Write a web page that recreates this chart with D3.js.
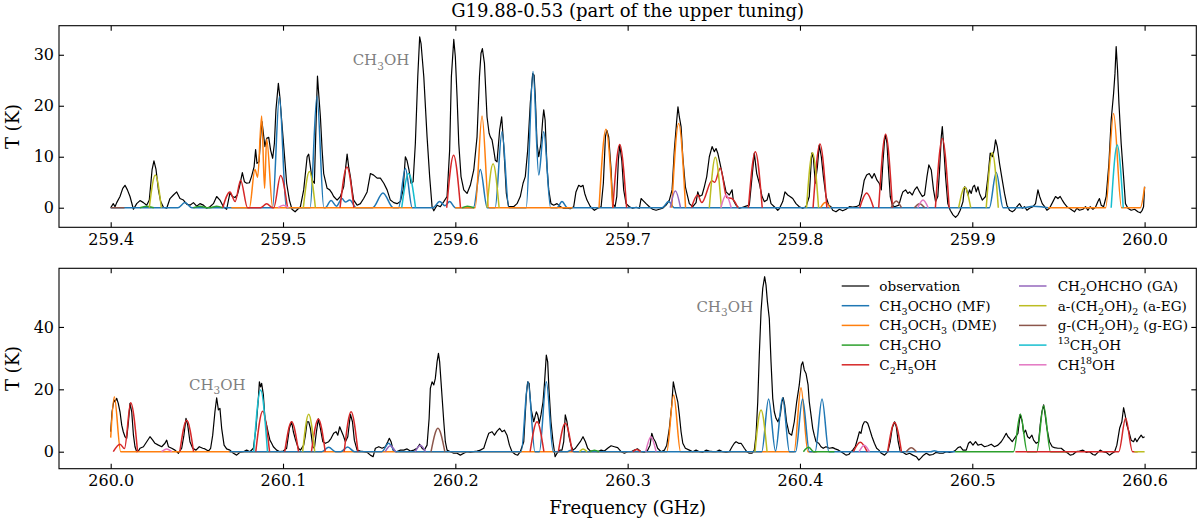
<!DOCTYPE html>
<html><head><meta charset="utf-8">
<script src="https://cdn.jsdelivr.net/npm/d3@7"></script>
<style>
body{margin:0;background:#fff}
svg{display:block}
text{font-family:"DejaVu Serif",serif;white-space:pre}
</style>
</head><body>
<svg id="chart" width="1200" height="521"></svg>
<script>
// ---------------- DATA ----------------
const xTicksUpper = [259.4, 259.5, 259.6, 259.7, 259.8, 259.9, 260.0];
const xTicksLower = [260.0, 260.1, 260.2, 260.3, 260.4, 260.5, 260.6];
const yTicksUpper = [0, 10, 20, 30];
const yTicksLower = [0, 20, 40];

// observed spectrum, upper panel [GHz, K]
const obsUpper = [[259.4000,0.0],[259.4015,0.8],[259.4025,0.2],[259.4035,1.0],[259.4054,2.2],[259.4070,3.8],[259.4083,4.4],[259.4097,3.5],[259.4112,2.2],[259.4132,-0.3],[259.4151,0.8],[259.4170,1.4],[259.4190,1.0],[259.4209,0.5],[259.4224,1.5],[259.4240,7.4],[259.4251,9.2],[259.4263,7.5],[259.4277,3.5],[259.4290,1.2],[259.4306,0.1],[259.4325,-0.1],[259.4344,1.8],[259.4364,2.5],[259.4383,3.1],[259.4402,1.8],[259.4422,1.5],[259.4441,0.7],[259.4460,0.5],[259.4480,1.0],[259.4499,0.3],[259.4518,0.8],[259.4538,0.5],[259.4557,-0.1],[259.4576,0.2],[259.4596,0.8],[259.4615,2.2],[259.4634,1.5],[259.4654,0.2],[259.4673,-0.3],[259.4692,2.9],[259.4706,2.2],[259.4721,2.0],[259.4735,2.5],[259.4747,4.1],[259.4764,6.9],[259.4776,5.1],[259.4789,4.8],[259.4805,4.9],[259.4818,6.2],[259.4832,8.0],[259.4841,11.4],[259.4849,8.7],[259.4861,9.0],[259.4870,13.9],[259.4878,16.9],[259.4886,14.6],[259.4895,12.0],[259.4905,13.6],[259.4917,13.8],[259.4928,11.3],[259.4940,9.7],[259.4950,12.6],[259.4959,19.2],[259.4973,24.4],[259.4982,21.6],[259.4992,17.2],[259.5006,11.3],[259.5021,4.8],[259.5037,1.5],[259.5052,-0.3],[259.5070,-0.8],[259.5085,-0.3],
[259.5101,0.2],[259.5120,3.5],[259.5140,10.0],[259.5149,10.5],[259.5159,8.0],[259.5169,5.4],[259.5182,4.8],[259.5194,19.2],[259.5200,25.8],[259.5207,22.4],[259.5217,17.8],[259.5227,11.3],[259.5236,6.7],[259.5256,3.8],[259.5271,3.5],[259.5285,2.8],[259.5294,2.2],[259.5314,1.5],[259.5333,2.2],[259.5352,4.1],[259.5364,8.0],[259.5372,10.5],[259.5381,8.0],[259.5391,6.1],[259.5401,3.5],[259.5410,1.5],[259.5430,0.5],[259.5449,0.8],[259.5468,1.8],[259.5488,3.1],[259.5507,6.7],[259.5526,6.4],[259.5546,5.8],[259.5565,5.8],[259.5585,4.8],[259.5604,3.5],[259.5623,1.5],[259.5643,1.0],[259.5662,0.8],[259.5681,1.2],[259.5697,3.5],[259.5710,10.0],[259.5720,9.2],[259.5731,7.4],[259.5743,4.8],[259.5755,5.1],[259.5768,12.6],[259.5782,25.7],[259.5793,33.5],[259.5801,32.2],[259.5817,25.7],[259.5836,13.9],[259.5851,6.1],[259.5865,0.2],[259.5875,-0.6],[259.5894,0.5],[259.5913,0.2],[259.5933,1.2],[259.5952,2.2],[259.5967,11.3],[259.5977,25.7],[259.5991,33.0],[259.6000,29.6],[259.6010,21.8],[259.6020,12.6],[259.6033,6.1],[259.6049,3.5],[259.6068,2.8],[259.6087,4.4],[259.6107,7.4],[259.6126,13.9],[259.6140,25.7],[259.6149,30.3],[259.6157,31.2],[259.6169,28.3],[259.6184,17.8],[259.6196,14.6],[259.6203,13.9],[259.6213,13.3],[259.6223,11.3],[259.6232,9.3],[259.6242,9.0],[259.6257,15.2],[259.6269,17.8],[259.6280,12.6],[259.6296,2.8],[259.6309,0.2],[259.6323,0.2],[259.6338,0.2],[259.6358,0.8],[259.6377,2.2],[259.6393,4.8],[259.6406,6.1],[259.6420,11.3],[259.6435,20.5],[259.6449,26.3],[259.6457,26.0],[259.6464,21.8],[259.6474,12.6],[259.6484,10.0],[259.6497,12.6],[259.6507,17.2],[259.6513,19.2],[259.6521,17.2],[259.6532,8.0],[259.6542,3.5],[259.6555,0.8],[259.6571,0.5],[259.6590,0.8],[259.6610,0.2],[259.6629,-0.1],[259.6648,-0.1],[259.6667,-0.2],[259.6687,0.2],[259.6700,3.1],[259.6716,4.4],[259.6729,4.1],[259.6741,4.4],[259.6751,2.8],[259.6764,1.5],[259.6784,0.2],
[259.6807,-0.5],[259.6826,-0.1],[259.6846,0.2],[259.6859,4.8],[259.6871,13.9],[259.6879,15.2],[259.6890,13.9],[259.6904,7.4],[259.6913,0.8],[259.6927,0.2],[259.6937,2.2],[259.6946,9.3],[259.6954,12.3],[259.6966,9.3],[259.6977,3.5],[259.6991,0.8],[259.7010,0.2],[259.7029,-0.1],[259.7049,0.1],[259.7068,-0.1],[259.7078,1.8],[259.7087,1.5],[259.7107,0.8],[259.7126,0.2],[259.7145,-0.3],[259.7165,-0.5],[259.7184,-0.3],[259.7203,-0.1],[259.7223,0.5],[259.7242,1.5],[259.7258,3.5],[259.7271,11.3],[259.7285,17.2],[259.7292,19.8],[259.7300,17.8],[259.7310,15.9],[259.7320,10.0],[259.7335,4.1],[259.7358,0.8],[259.7378,0.2],[259.7397,1.0],[259.7407,3.1],[259.7416,2.2],[259.7432,2.5],[259.7445,4.1],[259.7459,6.1],[259.7474,10.0],[259.7490,12.0],[259.7503,11.0],[259.7513,11.6],[259.7523,10.7],[259.7536,8.7],[259.7552,6.1],[259.7571,3.1],[259.7590,2.5],[259.7606,3.5],[259.7613,1.5],[259.7629,0.5],[259.7648,-0.1],[259.7668,0.1],[259.7687,0.3],[259.7706,0.5],[259.7722,6.1],[259.7735,10.7],[259.7749,6.7],[259.7764,4.8],[259.7780,2.2],[259.7793,1.2],[259.7809,1.5],[259.7819,2.8],[259.7832,0.8],[259.7851,0.2],[259.7871,-0.5],[259.7880,-0.2],[259.7900,1.2],[259.7913,3.1],[259.7929,2.5],[259.7942,2.2],[259.7958,1.8],[259.7977,0.8],[259.7996,0.2],[259.8016,-0.1],[259.8035,0.2],[259.8054,2.2],[259.8068,10.7],[259.8078,9.7],[259.8089,4.8],[259.8101,8.0],[259.8112,12.3],[259.8124,10.0],[259.8136,6.1],[259.8151,2.2],[259.8167,0.5],[259.8180,0.2],[259.8190,-0.5],[259.8209,-0.8],[259.8229,-0.3],[259.8248,-0.6],[259.8267,-0.3],[259.8287,0.2],[259.8306,0.1],[259.8325,0.2],[259.8344,0.5],[259.8360,2.8],[259.8373,5.4],[259.8387,6.4],[259.8402,6.7],[259.8418,5.8],[259.8431,6.7],[259.8447,5.4],[259.8460,4.8],
[259.8472,3.5],[259.8481,8.7],[259.8491,13.3],[259.8497,14.2],[259.8505,12.6],[259.8514,7.4],[259.8524,2.2],[259.8536,0.5],[259.8549,0.2],[259.8574,0.5],[259.8588,2.2],[259.8597,3.1],[259.8613,3.5],[259.8626,2.8],[259.8636,3.1],[259.8652,2.5],[259.8665,3.5],[259.8679,4.1],[259.8694,3.1],[259.8710,2.2],[259.8723,2.5],[259.8737,6.1],[259.8748,8.4],[259.8762,7.4],[259.8775,3.5],[259.8787,1.2],[259.8800,2.2],[259.8810,7.4],[259.8820,13.9],[259.8826,15.9],[259.8833,12.6],[259.8845,6.1],[259.8858,0.8],[259.8872,-0.5],[259.8888,-1.4],[259.8903,-1.9],[259.8917,-1.4],[259.8930,-0.5],[259.8946,1.2],[259.8955,4.1],[259.8965,3.8],[259.8975,2.5],[259.8984,3.5],[259.8994,2.8],[259.9004,4.1],[259.9013,4.4],[259.9023,3.1],[259.9033,4.1],[259.9042,2.8],[259.9058,1.5],[259.9077,2.2],[259.9091,6.1],[259.9104,10.7],[259.9116,10.0],[259.9127,11.3],[259.9135,13.3],[259.9145,12.0],[259.9158,8.7],[259.9174,5.4],[259.9187,2.8],[259.9201,0.5],[259.9216,-0.5],[259.9232,-0.8],[259.9245,-0.5],[259.9259,0.2],[259.9274,0.8],[259.9290,-0.1],[259.9303,0.2],[259.9317,-0.5],[259.9332,-0.1],[259.9352,0.2],[259.9367,0.8],[259.9381,3.5],[259.9391,2.2],[259.9406,0.8],[259.9420,0.2],[259.9433,-0.5],[259.9448,-0.1],[259.9468,1.2],[259.9483,2.2],[259.9497,1.8],[259.9510,2.2],[259.9522,1.5],[259.9535,0.8],[259.9549,0.2],[259.9564,-0.1],[259.9580,-0.5],[259.9593,-0.8],[259.9607,-0.1],[259.9622,-0.5],[259.9642,-0.3],[259.9657,0.2],[259.9671,-0.5],[259.9684,0.2],[259.9700,-0.3],[259.9715,0.1],[259.9729,1.2],[259.9738,1.8],[259.9748,0.5],[259.9762,0.2],[259.9777,2.2],[259.9793,8.7],[259.9806,17.2],[259.9820,22.4],[259.9828,26.3],[259.9835,31.6],[259.9843,27.0],[259.9851,20.5],[259.9864,12.6],[259.9878,6.1],[259.9889,0.8],[259.9903,-0.1],[259.9922,-0.5],[259.9942,-0.3],[259.9961,-0.8],[259.9975,-1.0],[259.9986,-0.5],[259.9994,0.2],[260.0000,4.1]];

// observed spectrum, lower panel [GHz, K]
const obsLower = [[260.0000,6.4],[260.0008,12.8],[260.0019,16.6],[260.0025,16.0],[260.0035,17.1],[260.0044,15.5],[260.0054,12.8],[260.0064,8.5],[260.0073,6.4],[260.0083,4.8],[260.0093,4.3],[260.0103,9.6],[260.0112,15.5],[260.0122,12.8],[260.0132,5.3],[260.0141,1.6],[260.0151,0.0],[260.0161,0.2],[260.0170,1.1],[260.0190,1.6],[260.0209,3.2],[260.0228,4.8],[260.0244,3.7],[260.0257,2.7],[260.0277,2.1],[260.0296,1.6],[260.0315,2.7],[260.0325,3.7],[260.0335,1.6],[260.0354,1.1],[260.0373,0.5],[260.0393,-0.5],[260.0412,1.1],[260.0425,5.3],[260.0437,10.7],[260.0447,8.5],[260.0460,3.2],[260.0476,1.1],[260.0495,0.5],[260.0514,1.6],[260.0534,1.1],[260.0547,0.9],[260.0567,0.2],[260.0580,1.1],[260.0592,5.3],[260.0605,12.8],[260.0615,17.3],[260.0625,13.4],[260.0634,13.9],[260.0644,7.5],[260.0658,2.1],[260.0673,0.9],[260.0692,0.5],[260.0712,-0.5],[260.0731,-1.1],[260.0750,-0.2],[260.0770,0.0],[260.0789,0.5],[260.0808,0.0],[260.0828,1.1],[260.0843,7.5],[260.0857,17.1],[260.0863,22.4],[260.0870,20.8],[260.0876,21.9],[260.0886,18.2],[260.0895,10.7],[260.0905,8.5],[260.0915,5.9],[260.0924,3.7],[260.0934,2.7],[260.0944,1.6],[260.0963,0.5],[260.0982,0.0],[260.1002,0.2],[260.1021,1.1],[260.1037,7.5],[260.1050,9.6],[260.1060,6.4],[260.1073,3.7],[260.1089,1.1],
[260.1101,0.5],[260.1120,2.1],[260.1130,5.3],[260.1140,9.6],[260.1149,9.6],[260.1159,7.5],[260.1173,1.6],[260.1182,1.1],[260.1194,6.4],[260.1205,10.5],[260.1217,7.5],[260.1231,3.2],[260.1246,2.7],[260.1265,3.2],[260.1279,4.3],[260.1294,5.9],[260.1308,6.4],[260.1318,5.3],[260.1329,8.0],[260.1337,6.9],[260.1349,5.3],[260.1362,3.2],[260.1376,4.8],[260.1391,12.0],[260.1403,9.6],[260.1414,3.7],[260.1430,0.5],[260.1449,0.2],[260.1468,0.0],[260.1488,-0.2],[260.1507,-1.1],[260.1523,-1.6],[260.1536,1.1],[260.1556,1.6],[260.1575,1.1],[260.1594,1.6],[260.1608,3.2],[260.1617,4.3],[260.1627,3.2],[260.1639,0.5],[260.1658,0.0],[260.1681,0.5],[260.1701,0.5],[260.1720,0.9],[260.1739,0.2],[260.1759,0.5],[260.1778,1.1],[260.1793,2.4],[260.1807,1.1],[260.1820,0.5],[260.1836,2.1],[260.1848,10.7],[260.1855,20.3],[260.1865,22.4],[260.1875,21.4],[260.1884,23.5],[260.1894,28.8],[260.1902,31.5],[260.1909,28.8],[260.1917,22.4],[260.1925,16.0],[260.1933,9.6],[260.1942,3.2],[260.1952,0.5],[260.1971,0.0],[260.1991,-0.5],[260.2010,-0.5],[260.2029,-1.1],[260.2049,-0.5],[260.2068,0.0],[260.2087,-0.2],[260.2107,0.0],[260.2126,0.2],[260.2145,0.5],[260.2165,1.1],[260.2180,3.7],[260.2194,5.9],[260.2213,6.4],[260.2227,5.3],[260.2242,6.6],[260.2257,7.5],[260.2271,6.4],[260.2285,6.9],[260.2300,5.3],[260.2314,2.1],[260.2329,0.0],[260.2349,-0.9],[260.2362,-1.1],[260.2377,0.0],[260.2397,3.2],[260.2412,18.2],[260.2420,22.4],[260.2428,21.9],[260.2439,13.9],[260.2455,9.6],[260.2470,12.8],[260.2478,11.8],[260.2487,9.1],[260.2497,11.8],[260.2509,16.0],[260.2518,22.4],[260.2528,31.0],[260.2536,28.8],[260.2543,20.3],[260.2555,9.6],[260.2567,3.2],[260.2579,-1.6],[260.2590,-0.5],[260.2606,0.5],[260.2619,0.5],[260.2629,3.2],[260.2638,11.8],[260.2648,9.6],[260.2660,4.8],[260.2671,2.1],[260.2683,0.5],[260.2697,1.1],[260.2710,2.1],[260.2725,3.2],[260.2741,4.8],[260.2755,3.2],[260.2768,1.1],[260.2784,0.2],
[260.2807,0.2],[260.2826,0.0],[260.2846,0.5],[260.2865,0.2],[260.2884,1.1],[260.2904,1.9],[260.2923,1.6],[260.2942,1.3],[260.2962,0.0],[260.2981,-0.5],[260.3000,0.0],[260.3020,0.0],[260.3039,0.5],[260.3058,0.9],[260.3078,0.0],[260.3097,-0.2],[260.3116,0.5],[260.3130,2.1],[260.3140,5.9],[260.3149,4.3],[260.3161,3.2],[260.3174,1.1],[260.3194,0.0],[260.3213,0.5],[260.3227,2.1],[260.3242,7.5],[260.3256,15.0],[260.3265,22.4],[260.3277,19.2],[260.3291,16.0],[260.3300,11.8],[260.3310,6.4],[260.3320,2.7],[260.3335,1.1],[260.3358,0.5],[260.3378,0.0],[260.3397,0.5],[260.3416,0.0],[260.3436,-0.2],[260.3455,0.5],[260.3474,0.2],[260.3494,0.0],[260.3513,0.0],[260.3532,0.5],[260.3552,0.0],[260.3571,-0.2],[260.3590,0.0],[260.3606,1.6],[260.3619,2.7],[260.3629,3.2],[260.3644,2.7],[260.3658,2.7],[260.3668,1.9],[260.3677,1.1],[260.3691,0.0],[260.3706,-0.5],[260.3722,-0.5],[260.3735,0.5],[260.3745,5.3],[260.3755,16.0],[260.3764,31.0],[260.3774,44.9],[260.3784,52.4],[260.3795,56.1],[260.3803,53.4],[260.3811,48.1],[260.3822,42.7],[260.3832,28.8],[260.3842,17.1],[260.3851,12.8],[260.3861,10.7],[260.3872,9.6],[260.3886,11.8],[260.3895,16.0],[260.3903,17.3],[260.3911,15.0],[260.3922,9.6],[260.3937,5.9],[260.3952,5.3],[260.3967,9.6],[260.3981,16.0],[260.3996,21.4],[260.4008,27.8],[260.4016,28.8],[260.4025,26.2],[260.4035,25.1],[260.4047,21.4],[260.4054,16.0],[260.4064,11.8],[260.4074,7.5],[260.4083,5.3],[260.4093,3.2],[260.4109,2.7],[260.4122,1.6],[260.4135,1.1],[260.4151,1.6],[260.4170,1.1],[260.4190,1.3],[260.4205,0.9],[260.4224,0.5],[260.4238,0.0],[260.4252,-0.5],[260.4267,-1.1],[260.4283,-0.9],[260.4296,0.0],[260.4306,0.5],[260.4321,1.6],[260.4335,4.3],[260.4345,6.4],[260.4354,5.9],[260.4364,8.5],[260.4374,9.6],[260.4383,9.6],[260.4393,9.1],[260.4403,7.5],[260.4418,4.8],[260.4432,2.7],[260.4445,1.1],
[260.4458,0.5],[260.4472,-0.5],[260.4491,-1.1],[260.4510,0.0],[260.4524,3.2],[260.4535,7.5],[260.4549,9.6],[260.4559,8.0],[260.4570,3.2],[260.4582,0.0],[260.4597,-0.2],[260.4617,-0.9],[260.4636,-0.5],[260.4655,-1.1],[260.4675,-1.6],[260.4690,-2.7],[260.4704,-1.9],[260.4717,-1.1],[260.4733,-0.5],[260.4752,-1.1],[260.4771,-0.9],[260.4791,-0.2],[260.4810,-0.5],[260.4830,-0.5],[260.4849,0.0],[260.4868,-0.2],[260.4888,0.0],[260.4903,0.5],[260.4917,1.3],[260.4930,1.6],[260.4946,0.5],[260.4965,0.5],[260.4978,2.7],[260.4988,3.2],[260.5004,2.1],[260.5019,3.2],[260.5033,2.1],[260.5052,2.4],[260.5071,1.6],[260.5091,1.9],[260.5110,2.4],[260.5129,1.6],[260.5149,2.1],[260.5168,3.2],[260.5181,4.3],[260.5197,5.9],[260.5207,4.8],[260.5216,4.3],[260.5232,3.2],[260.5245,4.3],[260.5265,5.9],[260.5278,12.0],[260.5290,9.6],[260.5298,5.9],[260.5309,6.9],[260.5321,4.8],[260.5332,4.3],[260.5346,5.3],[260.5356,3.7],[260.5371,2.7],[260.5385,3.2],[260.5394,8.5],[260.5404,12.8],[260.5414,15.0],[260.5423,11.8],[260.5433,7.5],[260.5448,3.2],[260.5464,1.6],[260.5477,1.3],[260.5497,1.1],[260.5516,1.1],[260.5535,0.2],[260.5555,-0.5],[260.5568,-1.1],[260.5584,-0.9],[260.5603,0.0],[260.5622,0.2],[260.5642,0.5],[260.5661,-0.2],[260.5681,0.0],[260.5700,-0.9],[260.5713,-1.1],[260.5729,-0.2],[260.5742,0.5],[260.5758,0.0],[260.5777,-0.2],[260.5796,-1.1],[260.5812,-0.5],[260.5826,0.0],[260.5839,2.1],[260.5855,7.5],[260.5868,9.6],[260.5878,14.1],[260.5887,11.8],[260.5897,8.5],[260.5909,6.4],[260.5922,3.7],[260.5936,3.2],[260.5945,4.3],[260.5955,3.2],[260.5967,4.3],[260.5980,5.3],[260.5990,4.5],[260.6000,4.8]];

// model spectra (null T = gap between fitted windows)
const mfUpper = [[259.400,0],[259.439,0],[259.4431,1.0],[259.4471,0],[259.4939,0],[259.4979,21.8],[259.5019,0],[259.5157,0],[259.5197,21.9],[259.5237,0],[259.5245,0],[259.5279,1.4],[259.5310,0.3],[259.5342,1.8],[259.5362,1.1],[259.5387,1.5],[259.5425,0],[259.5520,0],[259.5580,2.9],[259.5640,0],[259.5670,0],[259.5710,7.7],[259.5750,0],[259.5870,0],[259.5909,1.2],[259.5940,0.4],[259.5967,1.2],[259.6000,0],[259.6105,0],[259.6145,7.5],[259.6185,0],[259.6231,0],[259.6271,14.9],[259.6311,0],[259.6411,0],[259.6451,26.7],[259.6484,6.4],[259.6513,14.9],[259.6553,0],[259.6590,0],[259.6619,1.2],[259.6650,0],[259.7200,0],[259.7238,1.2],[259.7270,0],[259.9099,0],[259.9139,6.9],[259.9179,0],[259.9300,0],[259.9350,0.3],[259.9400,0.2],[259.9440,0]];
const mfLower = [[260.0690,0],[260.1225,0],[260.1265,1.4],[260.1305,0],[260.1335,0],[260.1375,1.5],[260.1415,0],[260.1573,0],[260.1613,2.7],[260.1653,0],[260.2382,0],[260.2422,22.4],[260.2462,0],[260.2488,0],[260.2528,22.4],[260.2568,0],[260.2650,0],[260.2670,0.5],[260.2690,0],[260.3778,0],[260.3818,16.9],[260.3858,0.2],[260.3899,17.3],[260.3939,0],[260.3975,0],[260.4015,16.9],[260.4055,0],[260.4088,0],[260.4128,16.9],[260.4168,0],[260.4760,0],[260.4780,0.3],[260.4800,0],[260.4900,0]];

const dmeUpper = [[259.4700,0],[259.4805,0],[259.4837,7.5],[259.4853,6.0],[259.4876,18.0],[259.4893,3.8],[259.4905,13.5],[259.4940,0],[259.5750,0],[259.575,null],[259.6000,0],[259.6115,0],[259.6155,18.0],[259.6195,0],[259.6680,0],[259.668,null],[259.6834,0],[259.6874,15.4],[259.6914,0],[259.691,null],[259.7256,0],[259.7296,16.5],[259.7336,0],[259.734,null],[259.8120,0],[259.8147,1.0],[259.8175,0],[259.818,null],[259.9440,0],[259.9774,0],[259.9820,18.5],[259.9866,0],[259.9975,0],[260.0000,4.1]];
const dmeLower = [[260.0000,4.5],[260.0021,17.6],[260.0058,0],[260.3227,0],[260.3267,18.2],[260.3307,0],[260.3966,0],[260.4006,20.5],[260.4046,0],[260.4100,0]];

const ch3choUpper = [[259.4170,0],[259.4209,0.3],[259.4250,0],[259.425,null],[259.4480,0],[259.4518,0.3],[259.4560,0],[259.4575,0],[259.4615,0.3],[259.4650,0],[259.465,null],[259.6040,0],[259.6070,0.3],[259.6110,0]];
const ch3choLower = [[260.2780,0],[260.2807,0.5],[260.2835,0],[260.284,null],[260.4020,0],[260.4050,1.4],[260.4080,0],[260.4200,0],[260.420,null],[260.4900,0],[260.5239,0],[260.5279,12.0],[260.5319,0],[260.5374,0],[260.5414,14.7],[260.5454,0],[260.5560,0]];

const c2h5ohUpper = [[259.4650,0],[259.4692,3.1],[259.4722,1.2],[259.4754,5.4],[259.4794,0],[259.4870,0],[259.4905,0.8],[259.4940,0],[259.4946,0],[259.4986,6.3],[259.5026,0],[259.503,null],[259.5331,0],[259.5371,8.0],[259.5411,0],[259.541,null],[259.5950,0],[259.5990,10.3],[259.6030,0],[259.603,null],[259.6914,0],[259.6954,12.4],[259.6994,0],[259.699,null],[259.7370,0],[259.7406,2.5],[259.7430,1.0],[259.7489,5.3],[259.7505,5.0],[259.7538,7.8],[259.7575,2.0],[259.7605,1.8],[259.7640,0],[259.764,null],[259.7701,0],[259.7741,11.0],[259.7781,0],[259.778,null],[259.8076,0],[259.8116,12.5],[259.8156,0],[259.816,null],[259.8347,0],[259.8387,2.9],[259.8427,0],[259.843,null],[259.8457,0],[259.8497,14.4],[259.8537,0],[259.854,null],[259.8786,0],[259.8826,13.6],[259.8866,0]];
const c2h5ohLower = [[260.0015,0],[260.0054,2.4],[260.0080,1.0],[260.0116,15.7],[260.0156,0],[260.016,null],[260.0401,0],[260.0441,10.1],[260.0481,0],[260.048,null],[260.0842,0],[260.0882,13.0],[260.0922,0],[260.092,null],[260.1010,0],[260.1050,9.6],[260.1090,0],[260.109,null],[260.1165,0],[260.1205,10.5],[260.1245,0],[260.125,null],[260.1355,0],[260.1395,12.8],[260.1435,0],[260.144,null],[260.2434,0],[260.2474,9.6],[260.2514,0],[260.251,null],[260.2598,0],[260.2638,9.1],[260.2678,0],[260.268,null],[260.3030,0],[260.3052,0.7],[260.3075,0],[260.308,null],[260.4310,0],[260.4350,3.0],[260.4390,0],[260.439,null],[260.4509,0],[260.4549,9.4],[260.4589,0],[260.459,null],[260.5250,0],[260.5850,0],[260.5890,10.7],[260.5930,0],[260.5960,0]];

const gaUpper = [[259.7247,0],[259.7277,3.3],[259.7307,0]];
const gaLower = [[260.1593,0],[260.1623,1.9],[260.1653,0],[260.166,null],[260.1767,0],[260.1797,2.1],[260.1827,0]];

const aegUpper = [[259.4224,0],[259.4259,6.4],[259.4294,0],[259.430,null],[259.5118,0],[259.5153,7.1],[259.5188,0],[259.519,null],[259.6184,0],[259.6219,8.6],[259.6254,0],[259.626,null],[259.7474,0],[259.7509,9.9],[259.7544,0],[259.755,null],[259.8038,0],[259.8073,10.8],[259.8108,0],[259.811,null],[259.8921,0],[259.8956,4.0],[259.8991,0],[259.900,null],[259.9081,0],[259.9116,10.8],[259.9151,0]];
const aegLower = [[260.1114,0],[260.1149,12.0],[260.1184,0],[260.119,null],[260.2720,0],[260.2741,0.9],[260.2765,0],[260.277,null],[260.3739,0],[260.3774,13.4],[260.3809,0],[260.381,null],[260.5940,0],[260.6000,0]];

const gegUpper = [[259.4000,0],[259.4080,0],[259.409,null],[259.8529,0],[259.8559,1.3],[259.8589,0],[259.859,null],[259.8664,0],[259.8694,0.8],[259.8724,0]];
const gegLower = [[260.1859,0],[260.1899,7.5],[260.1939,0],[260.194,null],[260.4616,0],[260.4646,1.3],[260.4676,0]];

const c13Upper = [[259.5689,0],[259.5729,6.7],[259.5769,0],[259.577,null],[259.9806,0],[259.9841,12.3],[259.9876,0]];
const c13Lower = [[260.0830,0],[260.0870,19.8],[260.0910,0]];

const o18Upper = [[259.4972,0],[259.5002,0.5],[259.5032,0],[259.504,null],[259.7541,0],[259.7571,2.5],[259.7601,0],[259.761,null],[259.8684,0],[259.8714,1.5],[259.8744,0]];
const o18Lower = [[260.0295,0],[260.0325,0.9],[260.0355,0],[260.036,null],[260.3105,0],[260.3135,4.8],[260.3165,0],[260.317,null],[260.4343,0],[260.4373,2.1],[260.4403,0]];

// legend labels (rich text parts: [text, kind])
const legendLabels = [
  [["observation","n"]],
  [["CH","n"],["3","sub"],["OCHO (MF)","n"]],
  [["CH","n"],["3","sub"],["OCH","n"],["3","sub"],[" (DME)","n"]],
  [["CH","n"],["3","sub"],["CHO","n"]],
  [["C","n"],["2","sub"],["H","n"],["5","sub"],["OH","n"]],
  [["CH","n"],["2","sub"],["OHCHO (GA)","n"]],
  [["a-(CH","n"],["2","sub"],["OH)","n"],["2","sub"],[" (a-EG)","n"]],
  [["g-(CH","n"],["2","sub"],["OH)","n"],["2","sub"],[" (g-EG)","n"]],
  [["13","sup"],["CH","n"],["3","sub"],["OH","n"]],
  [["CH","n"],["3","subsup","18"],["OH","n"]]
];

// ---------------- STYLE ----------------
const colors = {obs:"#000000", mf:"#1f77b4", dme:"#ff7f0e", ch3cho:"#2ca02c", c2h5oh:"#d62728",
  ga:"#9467bd", aeg:"#bcbd22", geg:"#8c564b", c13:"#17becf", o18:"#e377c2"};
const legendKeys = ["obs","mf","dme","ch3cho","c2h5oh","ga","aeg","geg","c13","o18"];

const svg = d3.select("#chart");
const L = 59, R = 1196.3;

function rich(t, parts, fs) {
  let shift = 0;
  parts.forEach(p => {
    const [txt, kind, extra] = p;
    if (kind === "n") {
      t.append("tspan").attr("dy", -shift).text(txt); shift = 0;
    } else if (kind === "sub") {
      const d = fs * 0.3;
      t.append("tspan").attr("dy", d - shift).attr("font-size", fs * 0.7).text(txt); shift = d;
    } else if (kind === "sup") {
      const d = -fs * 0.4;
      t.append("tspan").attr("dy", d - shift).attr("font-size", fs * 0.7).text(txt); shift = d;
    } else if (kind === "subsup") {
      const d1 = fs * 0.3, d2 = -fs * 0.4;
      t.append("tspan").attr("dy", d1 - shift).attr("font-size", fs * 0.7).text(txt);
      t.append("tspan").attr("dx", -fs * 0.7 * 0.636).attr("dy", d2 - d1).attr("font-size", fs * 0.7).text(extra);
      shift = d2;
    }
  });
}

function panel(cfg) {
  const g = svg.append("g");
  const x = d3.scaleLinear().domain(cfg.xDomain).range([L, R]);
  const y = d3.scaleLinear().domain(cfg.yDomain).range([cfg.bottom, cfg.top]);
  const clipId = "clip" + cfg.id;
  svg.append("clipPath").attr("id", clipId).append("rect")
    .attr("x", L).attr("y", cfg.top).attr("width", R - L).attr("height", cfg.bottom - cfg.top);
  const plot = g.append("g").attr("clip-path", `url(#${clipId})`);

  plot.append("path").datum(cfg.obs)
    .attr("d", d3.line().x(d => x(d[0])).y(d => y(d[1])))
    .attr("fill", "none").attr("stroke", colors.obs).attr("stroke-width", 1.2).attr("stroke-linejoin", "round");

  const modelLine = d3.line().defined(d => d[1] !== null)
    .x(d => x(d[0])).y(d => y(d[1])).curve(d3.curveMonotoneX);
  cfg.models.forEach(([key, data]) => {
    plot.append("path").datum(data).attr("d", modelLine)
      .attr("fill", "none").attr("stroke", colors[key]).attr("stroke-width", 1.5);
  });

  const styleAxis = (a) => {
    a.select(".domain").remove();
    a.selectAll(".tick line").attr("stroke", "#000").attr("stroke-width", 1.1);
    a.selectAll(".tick text").attr("font-family", "DejaVu Serif, serif").attr("font-size", 16).attr("fill", "#000");
    a.attr("font-family", null).attr("font-size", null);
  };
  const ab = g.append("g").attr("transform", `translate(0,${cfg.bottom})`)
    .call(d3.axisBottom(x).tickValues(cfg.xTicks).tickSizeInner(-5).tickSizeOuter(0).tickPadding(6).tickFormat(d3.format(".1f")));
  styleAxis(ab);
  const at = g.append("g").attr("transform", `translate(0,${cfg.top})`)
    .call(d3.axisTop(x).tickValues(cfg.xTicks).tickSizeInner(-5).tickSizeOuter(0).tickFormat(""));
  styleAxis(at);
  const al = g.append("g").attr("transform", `translate(${L},0)`)
    .call(d3.axisLeft(y).tickValues(cfg.yTicks).tickSizeInner(-5).tickSizeOuter(0).tickPadding(5).tickFormat(d3.format("d")));
  styleAxis(al);
  const ar = g.append("g").attr("transform", `translate(${R},0)`)
    .call(d3.axisRight(y).tickValues(cfg.yTicks).tickSizeInner(-5).tickSizeOuter(0).tickFormat(""));
  styleAxis(ar);

  g.append("rect").attr("x", L).attr("y", cfg.top).attr("width", R - L).attr("height", cfg.bottom - cfg.top)
    .attr("fill", "none").attr("stroke", "#000").attr("stroke-width", 1.1);

  g.append("text").attr("transform", `translate(19,${(cfg.top + cfg.bottom) / 2}) rotate(-90)`)
    .attr("text-anchor", "middle").attr("font-size", 18).text("T (K)");

  cfg.notes.forEach(([f, T]) => {
    const t = g.append("text").attr("x", x(f)).attr("y", y(T)).attr("font-size", 15).attr("fill", "#808080");
    rich(t, [["CH","n"],["3","sub"],["OH","n"]], 15);
  });
  return {g, x, y};
}

panel({id: "U", xDomain: [259.37, 260.03], yDomain: [-3.84, 35.7], top: 25.7, bottom: 227.3,
  xTicks: xTicksUpper, yTicks: yTicksUpper, obs: obsUpper,
  models: [["mf", mfUpper], ["dme", dmeUpper], ["ch3cho", ch3choUpper], ["c2h5oh", c2h5ohUpper], ["ga", gaUpper],
           ["aeg", aegUpper], ["geg", gegUpper], ["c13", c13Upper], ["o18", o18Upper]],
  notes: [[259.5404, 27.9]]});

panel({id: "L", xDomain: [259.97, 260.63], yDomain: [-5.45, 58.8], top: 268.3, bottom: 468.7,
  xTicks: xTicksLower, yTicks: yTicksLower, obs: obsLower,
  models: [["dme", dmeLower], ["mf", mfLower], ["ch3cho", ch3choLower], ["c2h5oh", c2h5ohLower], ["ga", gaLower],
           ["aeg", aegLower], ["geg", gegLower], ["c13", c13Lower], ["o18", o18Lower]],
  notes: [[260.0454, 19.9], [260.3399, 44.8]]});

// title & x label
svg.append("text").attr("x", (L + R) / 2).attr("y", 17).attr("text-anchor", "middle").attr("font-size", 18)
  .text("G19.88-0.53 (part of the upper tuning)");
svg.append("text").attr("x", (L + R) / 2).attr("y", 514).attr("text-anchor", "middle").attr("font-size", 18)
  .text("Frequency (GHz)");

// legend
const lg = svg.append("g");
legendKeys.forEach((k, i) => {
  const col = Math.floor(i / 5), row = i % 5;
  const lx = col === 0 ? 841.7 : 1019, tx = col === 0 ? 879.3 : 1057.7;
  const ly = 286 + row * 19.7;
  lg.append("line").attr("x1", lx).attr("x2", lx + 27.5).attr("y1", ly).attr("y2", ly)
    .attr("stroke", colors[k]).attr("stroke-width", k === "obs" ? 1.2 : 1.5);
  const t = lg.append("text").attr("x", tx).attr("y", ly + 4.8).attr("font-size", 13.6).attr("fill", "#000");
  rich(t, legendLabels[i], 13.6);
});
</script>
</body></html>
